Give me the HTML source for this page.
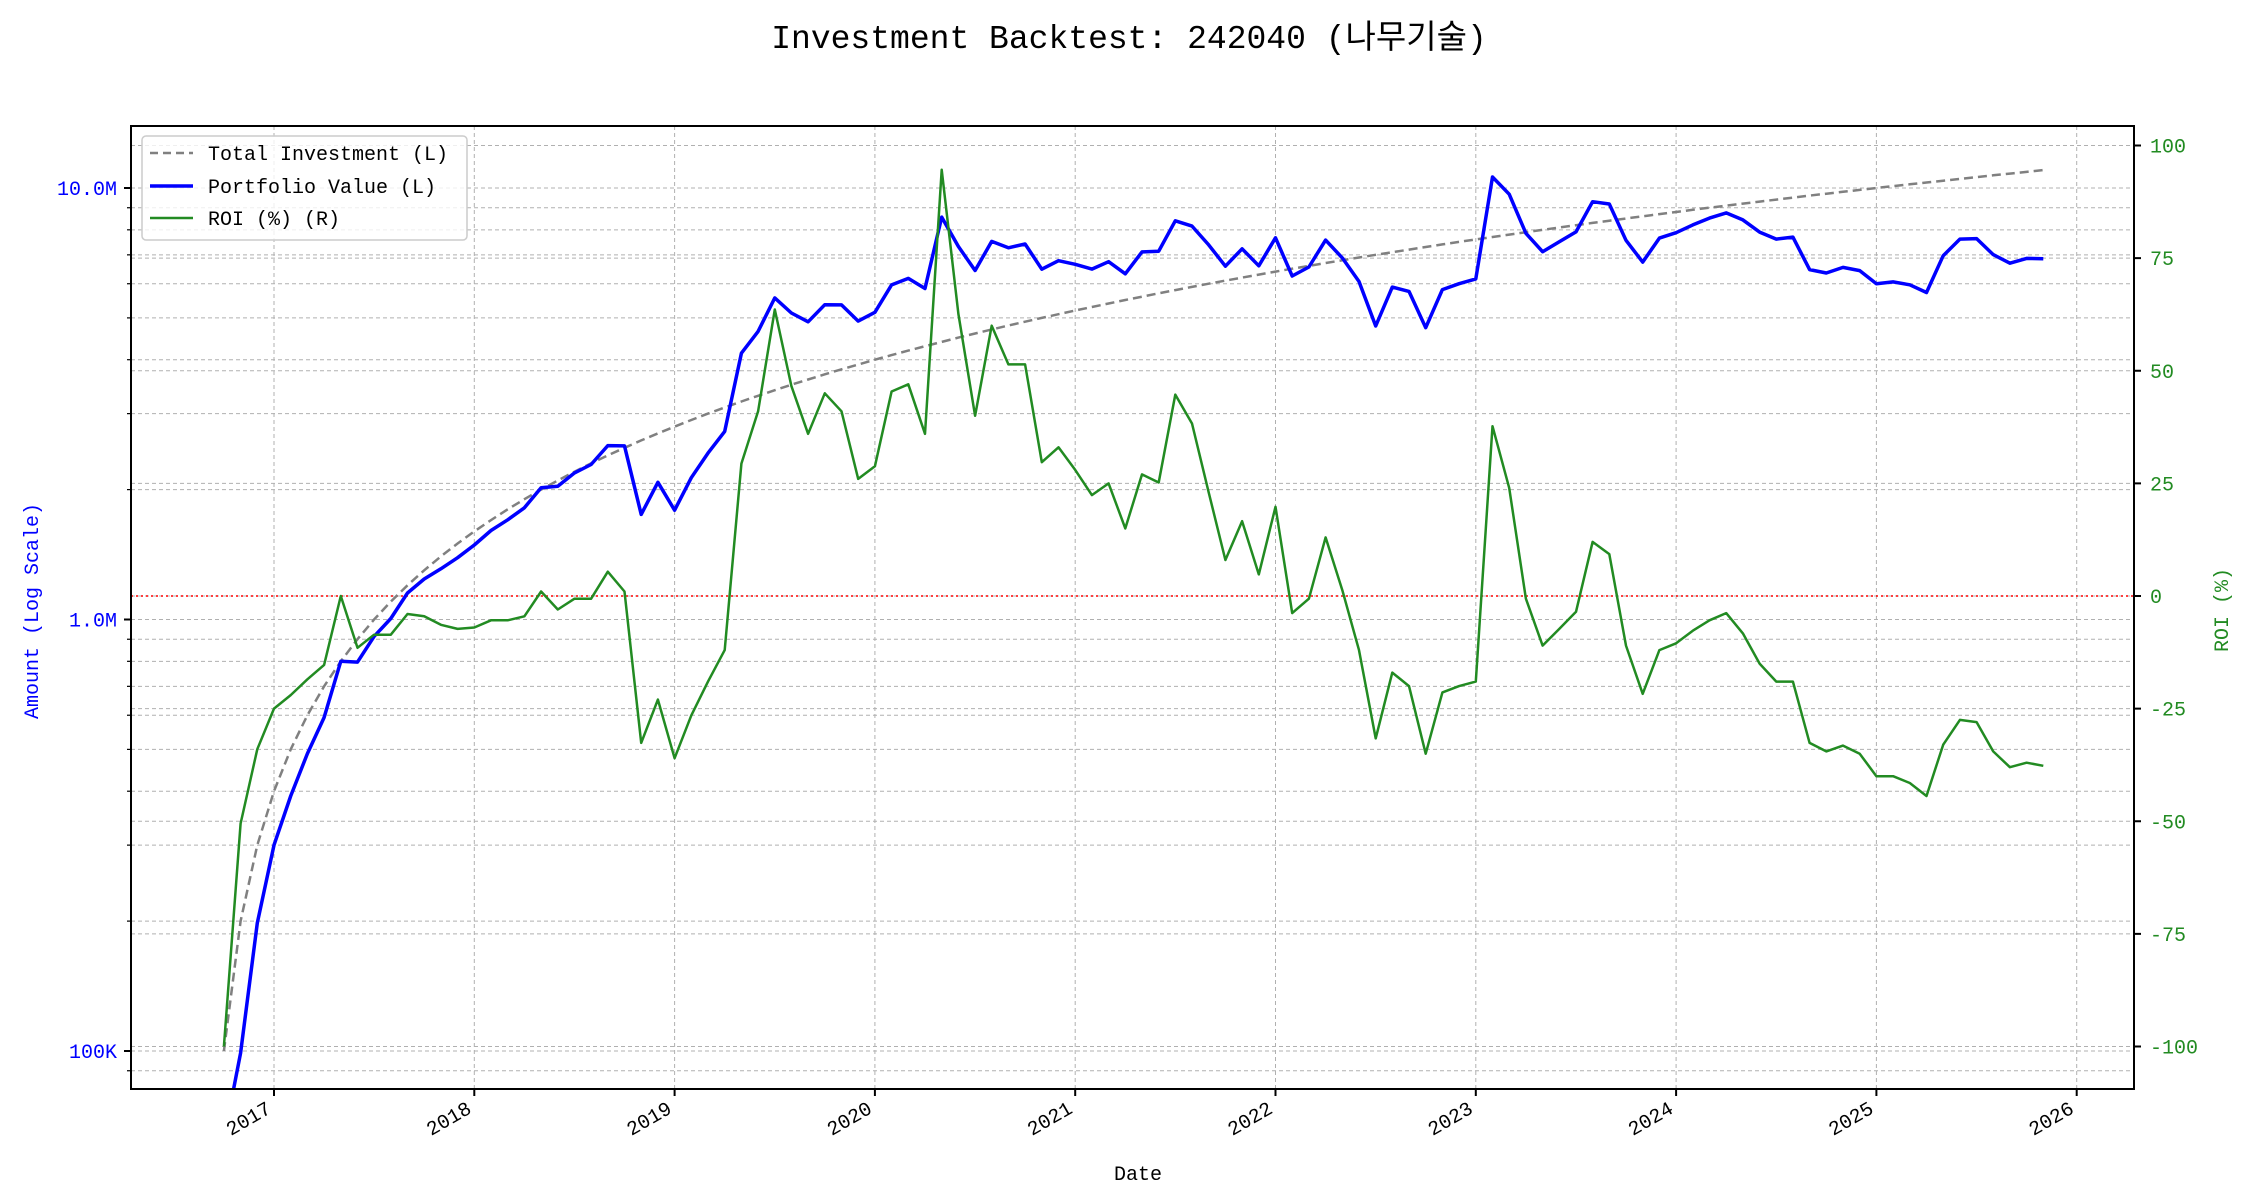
<!DOCTYPE html>
<html><head><meta charset="utf-8"><style>
html,body{margin:0;padding:0;background:#fff;}
svg{display:block;font-family:"Liberation Mono","DejaVu Sans Mono","Noto Sans CJK KR",monospace;}
</style></head><body>
<svg id="s" width="2250" height="1200" xmlns="http://www.w3.org/2000/svg">
<text x="1129" y="48" font-size="33" text-anchor="middle" fill="#000" font-family="Liberation Mono, Noto Sans CJK KR, monospace">Investment Backtest: 242040 (나무기술)</text>
<g id="grid"></g>
<g id="series"></g>
<rect x="131" y="126" width="2003" height="963" fill="none" stroke="#000" stroke-width="2"/>
<g id="ticks"></g>
<g font-size="20">
<rect x="142" y="136" width="325" height="104" rx="4" fill="#fff" fill-opacity="0.8" stroke="#ccc" stroke-width="1.5"/>
<line x1="150" y1="153" x2="193" y2="153" stroke="#808080" stroke-width="2.5" stroke-dasharray="8,5"/>
<line x1="150" y1="186" x2="193" y2="186" stroke="#0000ff" stroke-width="3.5"/>
<line x1="150" y1="218" x2="193" y2="218" stroke="#228b22" stroke-width="2.5"/>
<text x="208" y="160">Total Investment (L)</text>
<text x="208" y="193">Portfolio Value (L)</text>
<text x="208" y="225">ROI (%) (R)</text>
</g>
<text x="1138" y="1180" font-size="20" text-anchor="middle">Date</text>
<text transform="translate(38,611) rotate(-90)" font-size="20" text-anchor="middle" fill="#0000ff">Amount (Log Scale)</text>
<text transform="translate(2228,610) rotate(-90)" font-size="20" text-anchor="middle" fill="#228b22">ROI (%)</text>
</svg>
<script>
var NS="http://www.w3.org/2000/svg";
function el(p,t,a,txt){var e=document.createElementNS(NS,t);for(var k in a)e.setAttribute(k,a[k]);if(txt!=null)e.textContent=txt;p.appendChild(e);return e;}
var L=131,R=2134,T=126,B=1089;
function yL(v){return 619.5-431.5*(Math.log10(v)-6);}
function yR(r){return 596-4.505*r;}
function xI(i){return 274+200.3*((i-3)/12);}
var grid=document.getElementById('grid'),ticks=document.getElementById('ticks'),ser=document.getElementById('series');
var gs={stroke:"#b0b0b0","stroke-width":1,"stroke-dasharray":"4,3"};
for(var e=4;e<=7;e++)for(var m=1;m<=9;m++){var v=m*Math.pow(10,e);var y=yL(v);if(y<T||y>B)continue;
 el(grid,'line',Object.assign({x1:L,x2:R,y1:y,y2:y},gs));
 el(ticks,'line',{x1:L-(m==1?7:4),x2:L,y1:y,y2:y,stroke:"#000","stroke-width":m==1?2:1.2});}
var lab={5:"100K",6:"1.0M",7:"10.0M"};
for(var e2 in lab){el(ticks,'text',{x:117,y:yL(Math.pow(10,+e2))+7,"font-size":20,"text-anchor":"end",fill:"#0000ff"},lab[e2]);}
for(var r=-100;r<=100;r+=25){var y=yR(r);el(grid,'line',Object.assign({x1:L,x2:R,y1:y,y2:y},gs));
 el(ticks,'line',{x1:R,x2:R+7,y1:y,y2:y,stroke:"#000","stroke-width":2});
 el(ticks,'text',{x:2150,y:y+7,"font-size":20,fill:"#228b22"},String(r));}
for(var yr=2017;yr<=2026;yr++){var x=274+200.3*(yr-2017);
 el(grid,'line',Object.assign({x1:x,x2:x,y1:T,y2:B},gs));
 el(ticks,'line',{x1:x,x2:x,y1:B,y2:B+7,stroke:"#000","stroke-width":2});
 el(ticks,'text',{transform:"translate("+(x-8)+","+(B+12)+") rotate(-30)","font-size":20,"text-anchor":"end","dominant-baseline":"hanging"},String(yr));}
el(grid,'line',{x1:L,x2:R,y1:yR(0),y2:yR(0),stroke:"#ff0000","stroke-width":1.5,"stroke-dasharray":"2,3"});
var roi=[-100,-50.5,-34,-25,-22,-18.5,-15.3,0,-11.5,-8.6,-8.6,-4,-4.5,-6.4,-7.3,-7,-5.4,-5.4,-4.5,1,-3,-0.6,-0.6,5.4,1,-32.6,-23,-36,-26.5,-19,-12,29.4,41,63.6,46.6,36,45,41,26,28.8,45.4,47,36,94.6,62.6,40,60,51.4,51.4,29.7,33,28,22.4,25,15,27,25.2,44.7,38.3,23,8,16.6,4.8,19.8,-3.8,-0.6,13,1.3,-12,-31.6,-17,-20,-35,-21.4,-20,-19,37.7,24,-0.6,-11,-7.3,-3.5,12,9.3,-11,-21.7,-12,-10.5,-7.7,-5.4,-3.8,-8.3,-15,-19,-19,-32.6,-34.5,-33.2,-35,-40,-40,-41.5,-44.4,-33,-27.5,-28,-34.5,-38,-37,-37.7];
var pi="",pp="",pr="";
for(var i=0;i<roi.length;i++){var x=xI(i),inv=100000*(i+1);
 pi+=(i?"L":"M")+x.toFixed(1)+","+yL(inv).toFixed(1);
 var pv=inv*(1+roi[i]/100);var py=pv>0?yL(pv):B+50;if(py>B+50)py=B+50;
 pp+=(i?"L":"M")+x.toFixed(1)+","+py.toFixed(1);
 pr+=(i?"L":"M")+x.toFixed(1)+","+yR(roi[i]).toFixed(1);}
var cp=el(document.getElementById('s'),'clipPath',{id:"c"});el(cp,'rect',{x:L,y:T,width:R-L,height:B-T});
ser.setAttribute('clip-path','url(#c)');
el(ser,'path',{d:pi,fill:"none",stroke:"#808080","stroke-width":2.5,"stroke-dasharray":"9,5"});
el(ser,'path',{d:pp,fill:"none",stroke:"#0000ff","stroke-width":3.5,"stroke-linejoin":"round"});
el(ser,'path',{d:pr,fill:"none",stroke:"#228b22","stroke-width":2.5,"stroke-linejoin":"round"});
</script>
</body></html>
